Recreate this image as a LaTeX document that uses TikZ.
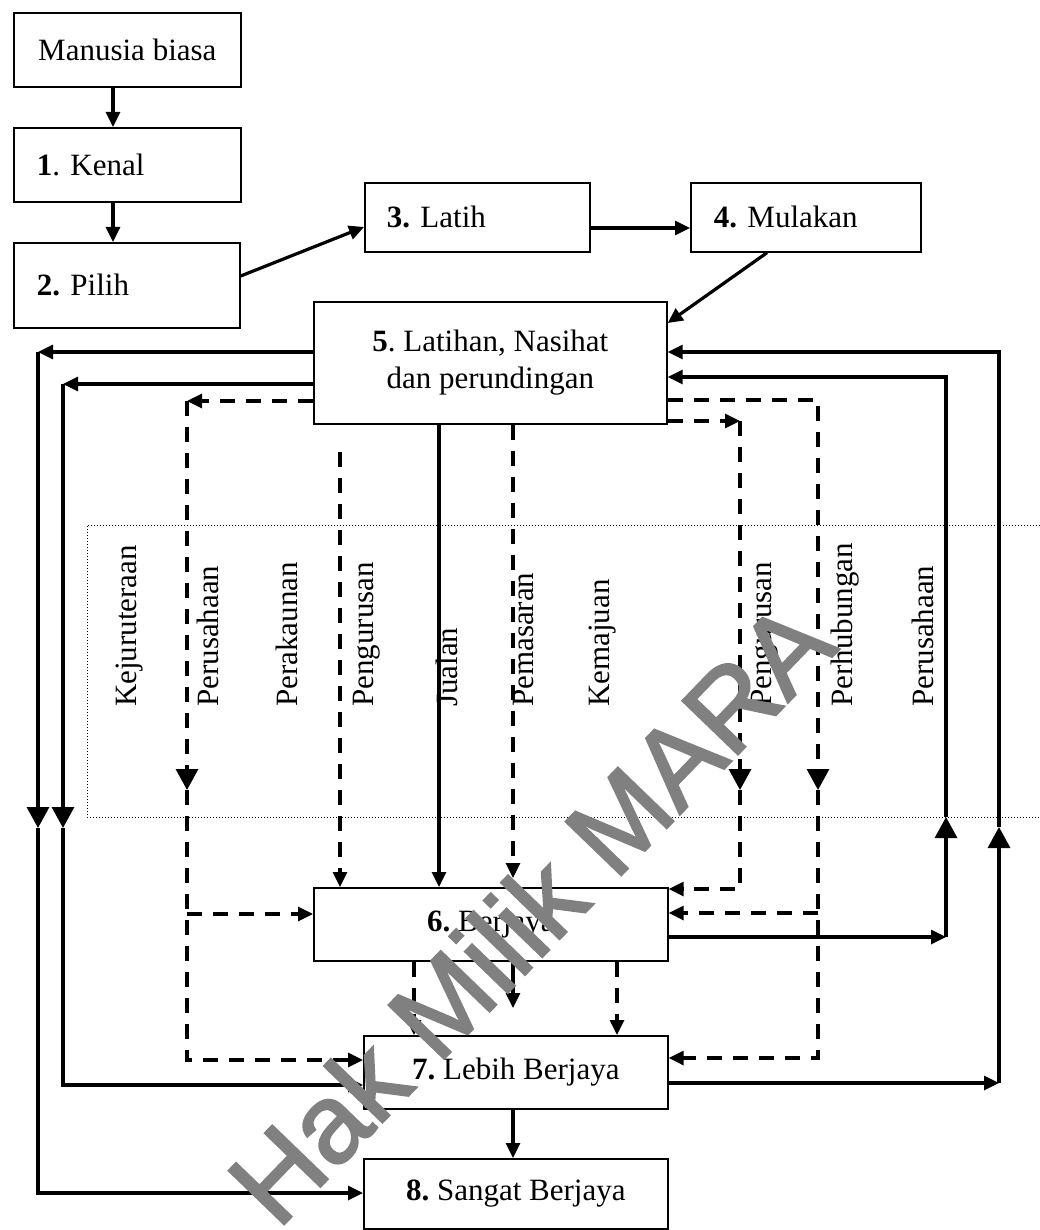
\documentclass[tikz,border=0pt]{standalone}
\usepackage{fontspec}
\setmainfont{Liberation Serif}
\newfontfamily\wmfont[FakeBold=2]{Liberation Sans}
\usetikzlibrary{arrows.meta}
\begin{document}
\frenchspacing
\begin{tikzpicture}[x=1pt,y=-1pt,
  box/.style={draw, line width=1.7pt, inner sep=0pt, font=\fontsize{31}{37}\selectfont},
  lbox/.style={box, align=left, inner xsep=23pt},
  conn/.style={line width=3.2pt},
  dconn/.style={line width=3.2pt, dash pattern=on 15pt off 11pt},
  tip/.style={-{Triangle[length=15pt,width=14pt]}},
  bigtip/.style={-{Triangle[length=21pt,width=22pt]}},
  vlabel/.style={rotate=90, anchor=west, inner sep=0pt, font=\fontsize{31}{37}\selectfont},
  frame/.style={dotted, line width=1pt}
]
\useasboundingbox (0,0) rectangle (1040,1230);

% boxes
\node[box, anchor=north west, minimum width=227pt, minimum height=74pt] (m) at (13,12) {Manusia biasa};
\node[lbox, anchor=north west, minimum width=227pt, minimum height=74pt, text width=181pt] (k) at (13,127) {\textbf{1}. Kenal};
\node[lbox, anchor=north west, minimum width=226pt, minimum height=85pt, text width=180pt] (p) at (13,242) {\textbf{2.} Pilih};
\node[lbox, anchor=north west, minimum width=225pt, minimum height=69pt, text width=181pt, inner xsep=22pt] (l) at (364,182) {\textbf{3.} Latih};
\node[lbox, anchor=north west, minimum width=230pt, minimum height=69pt, text width=184pt] (u) at (690,182) {\textbf{4.} Mulakan};
\node[box, anchor=north west, minimum width=353pt, minimum height=122pt, align=center] (b5) at (313,301) {\textbf{5}. Latihan, Nasihat\\dan perundingan};
\node[box, anchor=north west, minimum width=354pt, minimum height=73pt] (b6) at (313,887) {\textbf{6.} Berjaya};
\node[box, anchor=north west, minimum width=304pt, minimum height=73pt] (b7) at (363,1035) {\textbf{7.} Lebih Berjaya};
\node[box, anchor=north west, minimum width=304pt, minimum height=70pt] (b8) at (363,1158) {\textbf{8.} Sangat Berjaya};

% dotted frame
\draw[frame] (1040,525) -- (87,525) -- (87,817) -- (1040,817);

% vertical labels
\node[vlabel] (t1) at (130,707) {Kejuruteraan};
\node[vlabel] (t2) at (208,707) {Perusahaan};
\node[vlabel] (t3) at (287,707) {Perakaunan};
\node[vlabel] (t4) at (367,707) {Pengurusan};
\node[vlabel] (t5) at (447,707) {Jualan};
\node[vlabel] (t6) at (523,707) {Pemasaran};
\node[vlabel] (t7) at (603,707) {Kemajuan};
\node[vlabel] (t8) at (765,707) {Pengurusan};
\node[vlabel] (t9) at (845,707) {Perhubungan};
\node[vlabel] (t10) at (923,707) {Perusahaan};

% top chain
\draw[conn,tip] (113,0 |- m.south) -- (113,0 |- k.north);
\draw[conn,tip] (113,0 |- k.south) -- (113,0 |- p.north);
\draw[conn,tip] (p.east |- 0,276) -- (l.west |- 0,227);
\draw[conn,tip] (l.east |- 0,228) -- (u.west |- 0,228);
\draw[conn,tip] (767,0 |- u.south) -- (b5.east |- 0,323);

% corner coordinates
\coordinate (lo1) at (38,352);  \coordinate (lo2) at (38,828);  \coordinate (lo3) at (38,1193);
\coordinate (li1) at (63,384);  \coordinate (li2) at (63,828);  \coordinate (li3) at (63,1085);
\coordinate (ld1) at (187,401); \coordinate (ld2) at (187,790); \coordinate (ld3) at (187,1060); \coordinate (ld4) at (187,914);
\coordinate (ri1) at (946,937); \coordinate (ri2) at (946,817); \coordinate (ri3) at (946,377);
\coordinate (ro1) at (999,1083); \coordinate (ro2) at (999,827); \coordinate (ro3) at (999,352);
\coordinate (ra1) at (740,421); \coordinate (ra2) at (740,790); \coordinate (ra3) at (740,889);
\coordinate (rb1) at (818,400); \coordinate (rb2) at (818,790); \coordinate (rb3) at (818,1058); \coordinate (rb4) at (818,913);
\coordinate (pg) at (340,452);
\coordinate (j1) at (513,878);
\coordinate (j2) at (513,1008);

% left solid outer
\draw[conn,tip] (b5.west |- lo1) -- (lo1);
\draw[conn,bigtip] (lo1) -- (lo2);
\draw[conn,tip] (lo2) -- (lo3) -- (b8.west |- lo3);
% left solid inner
\draw[conn,tip] (b5.west |- li1) -- (li1);
\draw[conn,bigtip] (li1) -- (li2);
\draw[conn,tip] (li2) -- (li3) -- (b7.west |- li3);
% left dashed
\draw[dconn,tip] (b5.west |- ld1) -- (ld1);
\draw[dconn,bigtip] (ld1) -- (ld2);
\draw[dconn,tip] (ld2) -- (ld3) -- (b7.west |- ld3);
\draw[dconn,tip] (ld4) -- (b6.west |- ld4);

% right solid inner
\draw[conn,tip] (b6.east |- ri1) -- (ri1);
\draw[conn,bigtip] (ri1) -- (ri2);
\draw[conn,tip] (ri2) -- (ri3) -- (b5.east |- ri3);
% right solid outer
\draw[conn,tip] (b7.east |- ro1) -- (ro1);
\draw[conn,bigtip] (ro1) -- (ro2);
\draw[conn,tip] (ro2) -- (ro3) -- (b5.east |- ro3);
% right dashed A
\draw[dconn,tip] (b5.east |- ra1) -- (ra1);
\draw[dconn,bigtip] (ra1) -- (ra2);
\draw[dconn,tip] (ra2) -- (ra3) -- (b6.east |- ra3);
% right dashed B
\draw[dconn,bigtip] (b5.east |- rb1) -- (rb1) -- (rb2);
\draw[dconn,tip] (rb2) -- (rb3) -- (b7.east |- rb3);
\draw[dconn,tip] (rb4) -- (b6.east |- rb4);

% middle verticals
\draw[dconn,tip] (pg) -- (pg |- b6.north);
\draw[conn,tip] (439,0 |- b5.south) -- (439,0 |- b6.north);
\draw[dconn,tip] (j1 |- b5.south) -- (j1);
\draw[dconn,tip] (414,0 |- b6.south) -- (414,0 |- b7.north);
\draw[conn,tip] (j2 |- b6.south) -- (j2);
\draw[dconn,tip] (617,0 |- b6.south) -- (617,0 |- b7.north);
\draw[conn,tip] (513,0 |- b7.south) -- (513,0 |- b8.north);

% watermark
\node[font=\wmfont\fontsize{112}{112}\selectfont, text=black!50, rotate=46] (wm) at (530,912) {Hak Milik MARA};
\end{tikzpicture}
\end{document}
